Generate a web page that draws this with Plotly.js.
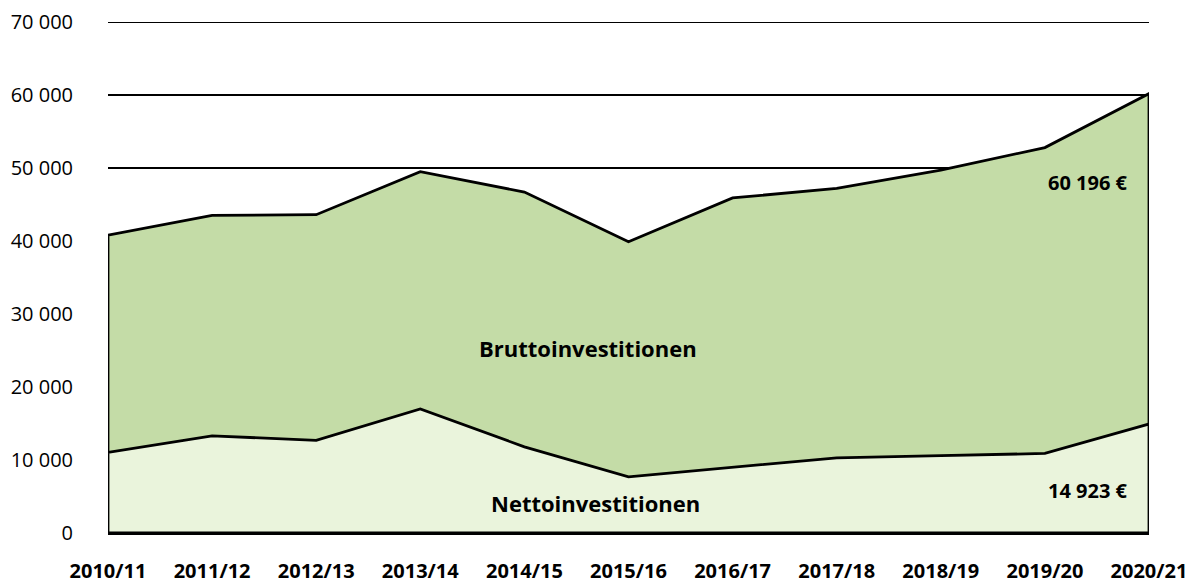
<!DOCTYPE html>
<html>
<head>
<meta charset="utf-8">
<script src="https://cdn.plot.ly/plotly-3.0.1.min.js"></script>
<style>html,body{margin:0;padding:0;background:#fff;}#chart{width:1197px;height:584px;}</style>
</head>
<body>
<div id="chart"></div>
<script>
const categories = ["2010/11","2011/12","2012/13","2013/14","2014/15","2015/16","2016/17","2017/18","2018/19","2019/20","2020/21"];
const brutto = [40800, 43500, 43600, 49500, 46700, 39900, 45900, 47200, 49700, 52800, 60196];
const netto  = [11050, 13300, 12700, 17000, 11800, 7700, 9000, 10300, 10600, 10900, 14923];
const seriesNames = ["Bruttoinvestitionen", "Nettoinvestitionen"];
const yTicks = [0, 10000, 20000, 30000, 40000, 50000, 60000, 70000];

const idx = categories.map((c, i) => i);
const last = idx.length - 1;
function poly(vals) {
  return {
    x: [0].concat(idx, [last, 0]),
    y: [0].concat(vals, [0, 0])
  };
}
const pb = poly(brutto), pn = poly(netto);
const fmt = v => String(v).replace(/\B(?=(\d{3})+(?!\d))/g, " ") + " €";
const FONT = "Open Sans, Noto Sans, DejaVu Sans, sans-serif";
const yMax = yTicks[yTicks.length - 1];

const traces = [
  {x: pb.x, y: pb.y, type: "scatter", mode: "lines", fill: "toself", fillcolor: "#c4dca7",
   line: {color: "#000", width: 2.8}, cliponaxis: false, hoverinfo: "skip", name: seriesNames[0]},
  {x: pn.x, y: pn.y, type: "scatter", mode: "lines", fill: "toself", fillcolor: "#eaf4dc",
   line: {color: "#000", width: 2.8}, cliponaxis: false, hoverinfo: "skip", name: seriesNames[1]}
];

const layout = {
  width: 1197, height: 584,
  margin: {l: 108, r: 48, t: 22, b: 51},
  paper_bgcolor: "#fff", plot_bgcolor: "#fff",
  showlegend: false,
  separators: ", ",
  font: {family: FONT, color: "#000"},
  xaxis: {
    range: [0, last], tickvals: idx, ticktext: categories,
    showgrid: false, zeroline: false, showline: true, linecolor: "#000", linewidth: 1.5,
    ticks: "", ticklabelstandoff: 19,
    tickfont: {family: FONT, size: 20, color: "#000", weight: "bold"}
  },
  yaxis: {
    range: [0, yMax], tickvals: yTicks, tickformat: ",d",
    showgrid: true, gridcolor: "#000", gridwidth: 2.2, zeroline: false, showline: false,
    ticks: "", ticklabelstandoff: 34,
    tickfont: {family: FONT, size: 20, color: "#000"}
  },
  shapes: [
    {type: "line", xref: "paper", yref: "y", x0: 0, x1: 1, y0: yMax, y1: yMax,
     line: {color: "#000", width: 2.2}, layer: "below"}
  ],
  annotations: [
    {text: "<b>" + seriesNames[0] + "</b>", xref: "paper", yref: "paper", x: 0.461, y: 0.362,
     xanchor: "center", yanchor: "middle",
     showarrow: false, font: {family: FONT, size: 22, color: "#000"}},
    {text: "<b>" + seriesNames[1] + "</b>", xref: "paper", yref: "paper", x: 0.468, y: 0.058,
     xanchor: "center", yanchor: "middle",
     showarrow: false, font: {family: FONT, size: 22, color: "#000"}},
    {text: "<b>" + fmt(brutto[last]) + "</b>", xref: "paper", yref: "paper", x: 0.982, y: 0.685,
     xanchor: "right", yanchor: "middle", showarrow: false, font: {family: FONT, size: 20, color: "#000"}},
    {text: "<b>" + fmt(netto[last]) + "</b>", xref: "paper", yref: "paper", x: 0.982, y: 0.084,
     xanchor: "right", yanchor: "middle", showarrow: false, font: {family: FONT, size: 20, color: "#000"}}
  ]
};

Plotly.newPlot("chart", traces, layout, {displayModeBar: false, staticPlot: true});
</script>
</body>
</html>
